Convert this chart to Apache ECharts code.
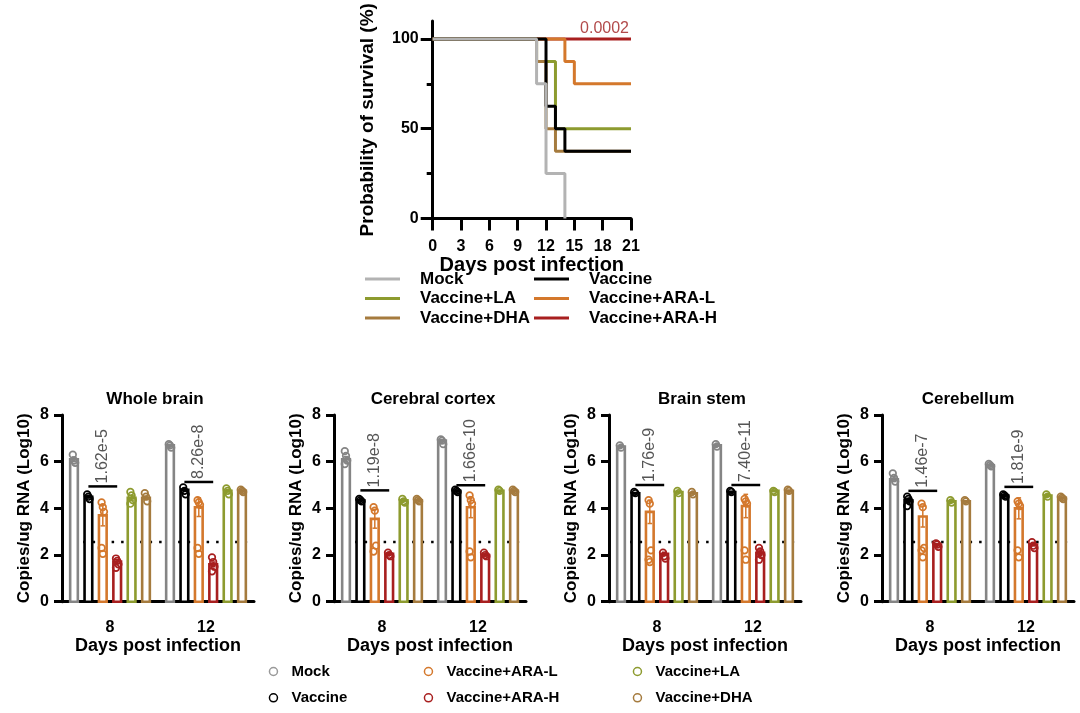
<!DOCTYPE html>
<html lang="en">
<head>
  <meta charset="UTF-8">
  <title>Survival and brain viral RNA</title>
  <script src="https://cdn.jsdelivr.net/npm/echarts@6.0.0/dist/echarts.min.js"></script>
  <style>
    html, body, #main {
      margin: 0;
      padding: 0;
      width: 1080px;
      height: 713px;
      background: #fff;
    }
  </style>
</head>
<body>
  <div id="main"></div>

  <script>
    const FONT = 'Arial, "Liberation Sans", sans-serif';

    // groups, in the order the bars are drawn inside each day
    const groupNames = ['Mock', 'Vaccine', 'Vaccine+ARA-L', 'Vaccine+ARA-H', 'Vaccine+LA', 'Vaccine+DHA'];
    const barColors = ['#858585', '#000000', '#d4782c', '#a81f1f', '#8d9b2f', '#a57b3e'];
    const mockLineColor = '#b3b3b3';

    // survival curves: [day, % alive], step changes
    const survMock = [[0, 100], [11, 75], [12, 25], [14, 0]];
    const survVaccine = [[0, 100], [12, 62.5], [13, 50], [14, 37.5], [21, 37.5]];
    const survLA = [[0, 100], [11, 87.5], [13, 50], [21, 50]];
    const survDHA = [[0, 100], [11, 87.5], [12, 50], [13, 37.5], [21, 37.5]];
    const survARAL = [[0, 100], [14, 87.5], [15, 75], [21, 75]];
    const survARAH = [[0, 100], [21, 100]];
    const survPValue = '0.0002';

    const dayLabels = ['8', '12'];
    const panelTitles = ['Whole brain', 'Cerebral cortex', 'Brain stem', 'Cerebellum'];
    const lodLevel = 2.56;

    // bar heights, rows = day 8 / day 12, columns follow groupNames
    const wholeBrainMean = [[6.1, 4.5, 3.7, 1.72, 4.45, 4.45], [6.7, 4.8, 4.05, 1.6, 4.75, 4.75]];
    const cortexMean = [[6.1, 4.35, 3.55, 2.05, 4.35, 4.35], [6.9, 4.75, 4.05, 2.0, 4.75, 4.75]];
    const stemMean = [[6.65, 4.65, 3.85, 2.05, 4.7, 4.65], [6.7, 4.7, 4.1, 2.1, 4.75, 4.75]];
    const cerebellumMean = [[5.25, 4.35, 3.65, 2.45, 4.3, 4.3], [5.85, 4.55, 4.0, 2.45, 4.55, 4.45]];

    const wholeBrainSem = [[0.1, 0.06, 0.45, 0.08, 0.1, 0.07], [0.04, 0.05, 0.4, 0.1, 0.05, 0.03]];
    const cortexSem = [[0.12, 0.03, 0.4, 0.05, 0.04, 0.03], [0.05, 0.03, 0.45, 0.05, 0.03, 0.03]];
    const stemSem = [[0.04, 0.03, 0.5, 0.07, 0.03, 0.03], [0.04, 0.03, 0.5, 0.12, 0.03, 0.03]];
    const cerebellumSem = [[0.1, 0.08, 0.45, 0.04, 0.04, 0.03], [0.03, 0.03, 0.45, 0.06, 0.04, 0.03]];

    // individual animals
    const wholeBrainPts = [
      [[6.3, 6.05, 5.95], [4.6, 4.5, 4.4], [4.25, 4.05, 3.85, 2.3, 2.05], [1.85, 1.75, 1.6, 1.45], [4.7, 4.55, 4.35, 4.2], [4.65, 4.5, 4.3]],
      [[6.75, 6.7, 6.6], [4.9, 4.75, 4.6], [4.35, 4.25, 4.15, 2.3, 2.05], [1.9, 1.7, 1.5, 1.3], [4.85, 4.75, 4.6], [4.8, 4.75, 4.7]]
    ];
    const cortexPts = [
      [[6.45, 6.25, 6.05, 5.9], [4.4, 4.35, 4.3], [4.05, 3.9, 2.4, 2.15], [2.1, 2.0, 1.95], [4.4, 4.3, 4.25], [4.4, 4.35, 4.3]],
      [[6.95, 6.9, 6.75], [4.8, 4.75, 4.7], [4.55, 4.35, 4.2, 2.15, 1.9], [2.1, 2.0, 1.95], [4.8, 4.75], [4.8, 4.75, 4.7]]
    ];
    const stemPts = [
      [[6.7, 6.6], [4.7, 4.65], [4.35, 4.2, 2.2, 1.8, 1.7], [2.1, 1.95, 1.85], [4.75, 4.65], [4.7, 4.6]],
      [[6.75, 6.65], [4.75, 4.7], [4.4, 4.3, 4.2, 2.2, 1.8], [2.3, 2.15, 2.0, 1.8], [4.75, 4.7], [4.8, 4.75]]
    ];
    const cerebellumPts = [
      [[5.5, 5.3, 5.15], [4.5, 4.4, 4.3, 4.1], [4.2, 4.05, 2.3, 2.2, 1.9], [2.5, 2.45, 2.35], [4.35, 4.25], [4.35, 4.3]],
      [[5.9, 5.85, 5.8], [4.6, 4.55, 4.5], [4.3, 4.2, 4.1, 2.2, 1.9], [2.55, 2.4, 2.3], [4.6, 4.5], [4.5, 4.45, 4.4]]
    ];

    // Vaccine vs Vaccine+ARA-H comparisons
    const pLabels = [['1.62e-5', '8.26e-8'], ['1.19e-8', '1.66e-10'], ['1.76e-9', '7.40e-11'], ['1.46e-7', '1.81e-9']];
    const bracketLevel = [[4.94, 5.13], [4.77, 4.99], [5.0, 5.0], [4.75, 4.92]];

    const panelMeans = [wholeBrainMean, cortexMean, stemMean, cerebellumMean];
    const panelSems = [wholeBrainSem, cortexSem, stemSem, cerebellumSem];
    const panelPts = [wholeBrainPts, cortexPts, stemPts, cerebellumPts];

    const gridLeft = [62, 334, 609, 882];
    const titleX = [155, 433, 702, 968];
    const SLOT = 0.15; // share of a day's band per bar

    const boldText = (size) => ({ color: '#000', fontFamily: FONT, fontWeight: 'bold', fontSize: size });

    function barGroup(p, k) {
      const means = panelMeans[p], sems = panelSems[p], pts = panelPts[p];
      const color = barColors[k];
      return function (params, api) {
        const d = params.dataIndex;
        const band = api.size([1, 0])[0];
        const base = api.coord([d, 0]);
        const cx = base[0] + (k - 2.5) * band * SLOT;
        const w = band * 0.08;
        const m = means[d][k], s = sems[d][k];
        const top = api.coord([d, m])[1];
        const hi = api.coord([d, m + s])[1];
        const lo = api.coord([d, m - s])[1];
        const line = { stroke: color, lineWidth: 1.5 };
        const children = [
          { type: 'rect', shape: { x: cx - w / 2, y: top, width: w, height: base[1] - top }, style: { fill: '#fff', stroke: color, lineWidth: 2.6 } },
          { type: 'line', shape: { x1: cx, y1: lo, x2: cx, y2: hi }, style: line },
          { type: 'line', shape: { x1: cx - w * 0.3, y1: hi, x2: cx + w * 0.3, y2: hi }, style: line },
          { type: 'line', shape: { x1: cx - w * 0.3, y1: lo, x2: cx + w * 0.3, y2: lo }, style: line }
        ];
        pts[d][k].forEach((v, j) => {
          children.push({
            type: 'circle',
            shape: { cx: cx + ((j % 3) - 1) * 1.2, cy: api.coord([d, v])[1], r: 3.3 },
            style: { fill: 'none', stroke: color, lineWidth: 1.7 }
          });
        });
        return { type: 'group', children };
      };
    }

    function lodLine(params, api) {
      const cs = params.coordSys;
      const band = api.size([1, 0])[0];
      const y = api.coord([0, lodLevel])[1];
      return {
        type: 'line',
        shape: { x1: cs.x + band * 0.22, y1: y, x2: cs.x + cs.width, y2: y },
        style: { stroke: '#000', lineWidth: 2.5, lineDash: [2.5, 7] }
      };
    }

    function bracket(p) {
      return function (params, api) {
        const d = params.dataIndex;
        const band = api.size([1, 0])[0];
        const c = api.coord([d, bracketLevel[p][d]]);
        const x1 = c[0] - 1.5 * band * SLOT;
        const x2 = c[0] + 0.5 * band * SLOT;
        return {
          type: 'group',
          children: [
            { type: 'line', shape: { x1, y1: c[1], x2, y2: c[1] }, style: { stroke: '#000', lineWidth: 2.5 } },
            {
              type: 'text', x: (x1 + x2) / 2, y: c[1] - 3, rotation: Math.PI / 2,
              style: { text: pLabels[p][d], fill: '#555', fontFamily: FONT, fontSize: 16, align: 'left', verticalAlign: 'middle' }
            }
          ]
        };
      };
    }

    const grids = [{ left: 432.7, width: 198.3, top: 21, height: 197.5 }];
    const xAxes = [{
      gridIndex: 0, type: 'value', min: 0, max: 21, interval: 3,
      axisLine: { lineStyle: { color: '#000', width: 3 } },
      axisTick: { length: 12, lineStyle: { color: '#000', width: 3 } },
      axisLabel: Object.assign({ margin: 20 }, boldText(16)),
      splitLine: { show: false },
      name: 'Days post infection', nameLocation: 'middle', nameGap: 32,
      nameTextStyle: boldText(20)
    }];
    const yAxes = [{
      gridIndex: 0, type: 'value', min: 0, max: 110,
      axisLine: { show: true, lineStyle: { color: '#000', width: 3 } },
      axisTick: { show: true, length: 12, customValues: [0, 50, 100], lineStyle: { color: '#000', width: 3 } },
      axisLabel: Object.assign({ margin: 14, customValues: [0, 50, 100] }, boldText(16)),
      splitLine: { show: false },
      name: 'Probability of survival (%)', nameLocation: 'middle', nameGap: 55,
      nameTextStyle: boldText(19)
    }, {
      gridIndex: 0, type: 'value', min: 0, max: 110, position: 'left',
      axisLine: { show: false },
      axisTick: { show: true, length: 6, customValues: [25, 75], lineStyle: { color: '#000', width: 3 } },
      axisLabel: { show: false },
      splitLine: { show: false }
    }];

    const survSets = [
      ['Vaccine+ARA-H', survARAH, barColors[3]],
      ['Vaccine+ARA-L', survARAL, barColors[2]],
      ['Vaccine+LA', survLA, barColors[4]],
      ['Vaccine+DHA', survDHA, barColors[5]],
      ['Vaccine', survVaccine, barColors[1]],
      ['Mock', survMock, mockLineColor]
    ];
    const series = survSets.map(([name, data, color]) => ({
      name, type: 'line', step: 'end', xAxisIndex: 0, yAxisIndex: 0,
      data, symbol: 'none', lineStyle: { color, width: 3 }, itemStyle: { color }
    }));
    series[0].markPoint = {
      symbol: 'circle', symbolSize: 0,
      data: [{ coord: [21, 100], value: survPValue }],
      label: { show: true, position: 'top', distance: 2, align: 'right', offset: [-2, 0], color: '#b24a4a', fontFamily: FONT, fontSize: 16, formatter: survPValue }
    };

    const titles = [];
    panelTitles.forEach((t, p) => {
      grids.push({ left: gridLeft[p], width: 192, top: 415, height: 186.7 });
      titles.push({ text: t, left: titleX[p], top: 391, textAlign: 'center', padding: 0, textStyle: boldText(17) });
      xAxes.push({
        gridIndex: p + 1, type: 'category', data: dayLabels,
        axisLine: { lineStyle: { color: '#000', width: 3 } },
        axisTick: { alignWithLabel: true, length: 12, lineStyle: { color: '#000', width: 3 } },
        axisLabel: Object.assign({ margin: 18 }, boldText(16)),
        name: 'Days post infection', nameLocation: 'middle', nameGap: 32,
        nameTextStyle: boldText(18)
      });
      yAxes.push({
        gridIndex: p + 1, type: 'value', min: 0, max: 8, interval: 2,
        axisLine: { show: true, lineStyle: { color: '#000', width: 3 } },
        axisTick: { show: true, length: 8, lineStyle: { color: '#000', width: 3 } },
        axisLabel: Object.assign({ margin: 13 }, boldText(16)),
        splitLine: { show: false },
        name: 'Copies/ug RNA (Log10)', nameLocation: 'middle', nameGap: 29,
        nameTextStyle: boldText(17)
      });
      series.push({
        type: 'custom', xAxisIndex: p + 1, yAxisIndex: p + 2, silent: true,
        data: [[0, lodLevel]], renderItem: lodLine, z: 1
      });
      groupNames.forEach((name, k) => {
        series.push({
          name, type: 'custom', xAxisIndex: p + 1, yAxisIndex: p + 2,
          itemStyle: { color: barColors[k] },
          data: dayLabels.map((_, d) => [d, panelMeans[p][d][k]]),
          encode: { x: 0, y: 1 },
          renderItem: barGroup(p, k)
        });
      });
      series.push({
        type: 'custom', xAxisIndex: p + 1, yAxisIndex: p + 2, silent: true,
        data: dayLabels.map((_, d) => [d, bracketLevel[p][d]]),
        encode: { x: 0, y: 1 },
        renderItem: bracket(p)
      });
    });

    const lineLegendItem = (name, color) => ({ name, icon: 'rect', itemStyle: { color, borderWidth: 0 } });
    const dotLegendItem = (name, color) => ({ name, icon: 'circle', itemStyle: { color: 'rgba(0,0,0,0)', borderColor: color, borderWidth: 1.5 } });

    const survLegend = {
      orient: 'vertical', top: 270.5, padding: 0, itemWidth: 35, itemHeight: 3, itemGap: 2.5,
      textStyle: Object.assign({ padding: [0, 0, 0, 15], lineHeight: 17 }, boldText(17))
    };
    const dotLegend = {
      orient: 'vertical', top: 664, padding: 0, itemWidth: 8, itemHeight: 8, itemGap: 11.3,
      textStyle: Object.assign({ padding: [0, 0, 0, 9], lineHeight: 15 }, boldText(15))
    };

    const legends = [
      Object.assign({ left: 365, data: [lineLegendItem('Mock', mockLineColor), lineLegendItem('Vaccine+LA', barColors[4]), lineLegendItem('Vaccine+DHA', barColors[5])] }, survLegend),
      Object.assign({ left: 534, data: [lineLegendItem('Vaccine', barColors[1]), lineLegendItem('Vaccine+ARA-L', barColors[2]), lineLegendItem('Vaccine+ARA-H', barColors[3])] }, survLegend),
      Object.assign({ left: 268.7, data: [dotLegendItem('Mock', '#999'), dotLegendItem('Vaccine', '#000')] }, dotLegend),
      Object.assign({ left: 423.7, data: [dotLegendItem('Vaccine+ARA-L', barColors[2]), dotLegendItem('Vaccine+ARA-H', barColors[3])] }, dotLegend),
      Object.assign({ left: 632.7, data: [dotLegendItem('Vaccine+LA', barColors[4]), dotLegendItem('Vaccine+DHA', barColors[5])] }, dotLegend)
    ];

    const chart = echarts.init(document.getElementById('main'));
    chart.setOption({
      animation: false,
      backgroundColor: '#fff',
      title: titles,
      legend: legends,
      grid: grids,
      xAxis: xAxes,
      yAxis: yAxes,
      series: series
    });
  </script>
</body>
</html>
